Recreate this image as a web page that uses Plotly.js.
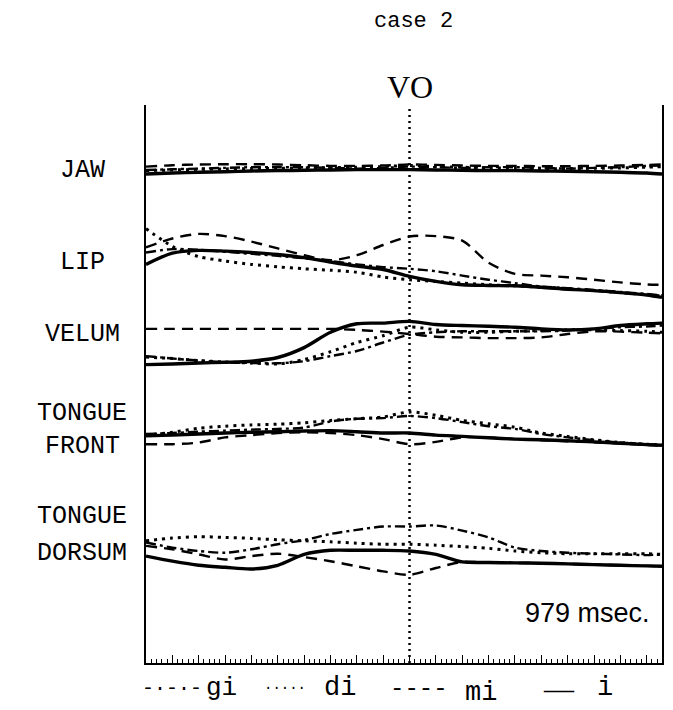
<!DOCTYPE html>
<html>
<head>
<meta charset="utf-8">
<script src="https://cdn.plot.ly/plotly-3.0.1.min.js"></script>
<style>html,body{margin:0;padding:0;background:#fff;}#chart{width:673px;height:710px;}</style>
</head>
<body>
<div id="chart"></div>
<script>
// ---- data (time in ms, displacement in arbitrary units, positive = up) ----
const TIME_MS = [0, 50, 100, 150, 200, 250, 300, 350, 400, 450, 500, 550, 600, 650, 700, 750, 800, 850, 900, 950, 979];
const VO_TIME = 500;
const TOTAL_MS = 979;
const CHANNELS = ["JAW", "LIP", "VELUM", "TONGUE FRONT", "TONGUE DORSUM"];
const SERIES = ["gi", "di", "mi", "i"];

const JAW_I  = [-2, -1, -0.3, 0.3, 1, 1.4, 1.7, 2, 2.4, 2.4, 2.4, 2, 1.7, 1.4, 1.4, 1, 0.7, 0.3, -0.3, -1, -2];
const JAW_MI = [5.4, 6.8, 7.5, 7.8, 7.8, 7.5, 6.8, 6.1, 6.1, 6.5, 7.5, 7.1, 6.5, 6.1, 6.1, 5.8, 5.8, 6.1, 6.5, 7.1, 7.5];
const JAW_DI = [1.4, 2, 2.7, 3.1, 3.4, 3.7, 4.1, 4.4, 4.8, 5.4, 6.5, 5.4, 4.8, 4.1, 3.7, 3.4, 3.4, 3.7, 4.1, 4.8, 5.4];
const JAW_GI = [2, 2.7, 3.4, 4.1, 4.8, 4.8, 4.8, 4.1, 3.4, 4.1, 5.4, 4.8, 4.1, 4.8, 4.8, 4.1, 3.4, 4.1, 4.8, 6.1, 6.5];

const LIP_I  = [-2.4, 8.8, 11.6, 10.9, 9.5, 7.5, 4.4, 0, -4.1, -7.5, -14.3, -19.4, -22.8, -23.5, -23.8, -25.2, -27.2, -28.6, -30.6, -33, -35.4];
const LIP_MI = [14.6, 23.5, 28.1, 25.9, 20.4, 13.6, 6.8, 1.7, 6.8, 17, 25.5, 25.9, 21.4, -0.7, -11.9, -13.6, -15.3, -17.7, -20.4, -22.4, -22.8];
const LIP_DI = [33.3, 15.6, 5.4, 1, -2.4, -4.8, -6.8, -8.2, -10.2, -15, -17.7, -19.4, -21.1, -22.8, -23.8, -25.2, -26.5, -28.6, -30.6, -32.7, -34];
const LIP_GI = [9.5, 12.9, 12.2, 10.2, 8.2, 6.1, 3.7, 1, -2.4, -5.1, -6.8, -9.2, -13.6, -17.7, -21.1, -24.5, -26.2, -27.9, -29.9, -32, -33.3];

const VELUM_I  = [-31.6, -31, -30, -29.3, -28.2, -24.5, -14.6, 0.7, 9.2, 9.9, 11.6, 8.5, 7.5, 6.8, 5.8, 4.1, 3.1, 4.1, 7.5, 9.2, 9.9];
const VELUM_MI = [4.1, 4.1, 4.1, 4.1, 4.1, 4.1, 4.1, 4.1, 3.1, 1.4, -1, -3.7, -4.4, -5.1, -5.1, -4.4, -1, 1.7, 1.4, 0.3, -0.3];
const VELUM_DI = [-24.1, -25.5, -27.6, -29, -30, -31, -26.5, -18.7, -9.5, -2.7, 5.8, 3.1, 0.7, 0.7, 1.7, 2.4, 3.1, 3.1, 2.4, 1.7, 0.7];
const VELUM_GI = [-23.1, -25.5, -27.6, -29.3, -30, -30.3, -28.2, -23.1, -18, -9.5, -1.7, 0.7, 1.7, 1.7, 1.7, 1.7, 2.4, 4.1, 5.8, 6.5, 7.5];

const TF_I  = [-3.7, -3.1, -2, -1, -0.3, 0.3, 1, 1.4, 0.3, -1, -1, -3.1, -4.4, -5.8, -7.1, -7.8, -8.8, -9.9, -11.2, -12.6, -13.3];
const TF_MI = [-12.2, -12.2, -10.5, -5.4, -3.1, -1, -0.3, -1, -3.1, -7.1, -12.2, -9.9, -5.4, -5.4, -7.1, -8.2, -9.2, -10.2, -11.6, -12.9, -13.6];
const TF_DI = [-3.1, -0.3, 3.7, 5.8, 7.1, 7.8, 9.2, 11.6, 13.3, 15, 20.1, 16.7, 11.6, 8.2, 4.8, -1, -4.4, -7.8, -10.5, -12.2, -12.9];
const TF_GI = [-2, -1, 0.3, 1.4, 2.4, 3.1, 4.4, 10.5, 13.3, 13.9, 16, 13.9, 9.9, 5.8, 3.1, -2, -5.4, -8.2, -10.5, -12.2, -12.9];

const TD_I  = [-4.1, -9.2, -13.3, -15.3, -17, -13.3, -2.4, 1.7, 1.7, 1.7, 1, -2.4, -9.9, -10.5, -10.9, -11.2, -11.9, -12.6, -13.3, -13.9, -14.3];
const TD_MI = [6.1, 2.7, -2.4, -7.5, -4.1, -1.7, -5.1, -9.2, -14.3, -19.4, -22.8, -16, -9.9, -10.5, -10.9, -11.2, -11.9, -12.6, -13.3, -13.9, -14.3];
const TD_DI = [11.2, 13.9, 15.3, 14.6, 13.6, 12.2, 11.2, 10.2, 8.8, 7.8, 7.8, 6.8, 5.4, 3.7, 1, -0.7, -1.7, -1.7, -1.7, -1.7, -2.4];
const TD_GI = [9.5, 4.4, 1, -0.7, 2.7, 7.8, 11.9, 18, 22.1, 25.5, 25.5, 26.5, 21.4, 14.6, 4.4, 1, -0.7, -1.7, -2.4, -3.1, -2.4];

// ---- layout constants (positions / styles) ----
const PLOT_H = 558;                       // y-axis units = pixels
const CHANNEL_BASE = [491, 401, 330, 231, 111];
const CHANNEL_DATA = [
  {gi: JAW_GI, di: JAW_DI, mi: JAW_MI, i: JAW_I},
  {gi: LIP_GI, di: LIP_DI, mi: LIP_MI, i: LIP_I},
  {gi: VELUM_GI, di: VELUM_DI, mi: VELUM_MI, i: VELUM_I},
  {gi: TF_GI, di: TF_DI, mi: TF_MI, i: TF_I},
  {gi: TD_GI, di: TD_DI, mi: TD_MI, i: TD_I}
];
const STYLE = {
  gi: {dash: "10px,4px,3px,4px", width: 2.4},
  di: {dash: "3px,5px", width: 3},
  mi: {dash: "11px,7px", width: 2.4},
  i:  {dash: "solid", width: 3.4}
};

const traces = [];
CHANNELS.forEach((ch, k) => {
  SERIES.forEach(s => {
    traces.push({
      x: TIME_MS,
      y: CHANNEL_DATA[k][s].map(v => v + CHANNEL_BASE[k]),
      type: "scatter", mode: "lines", name: s, showlegend: false,
      line: {color: "#000", width: STYLE[s].width, dash: STYLE[s].dash, shape: "spline", smoothing: 0.8},
      hoverinfo: "skip"
    });
  });
});

const MONO = "Courier New, Liberation Mono, monospace";
const L = 146, R = 11, T = 105, B = 47, W = 673, H = 710;
const PW = W - L - R;
function px2paperX(px) { return (px - L) / PW; }
function px2paperY(py) { return (H - B - py) / PLOT_H; }

const labelRows = [
  ["JAW", 170], ["LIP", 262], ["VELUM", 334], ["TONGUE", 413], ["FRONT", 446], ["TONGUE", 516], ["DORSUM", 553]
];
const annotations = labelRows.map(([t, py]) => ({
  text: t, xref: "paper", yref: "paper", x: px2paperX(82), y: px2paperY(py),
  xanchor: "center", yanchor: "middle", showarrow: false,
  font: {family: MONO, size: 25, color: "#000"}
}));
annotations.push({text: "case 2", xref: "paper", yref: "paper", x: px2paperX(413), y: px2paperY(22),
  xanchor: "center", yanchor: "middle", showarrow: false, font: {family: MONO, size: 22, color: "#000"}});
annotations.push({text: "VO", xref: "x", yref: "paper", x: VO_TIME, y: px2paperY(87),
  xanchor: "center", yanchor: "middle", showarrow: false, font: {family: "Liberation Serif, serif", size: 32, color: "#000"}});
annotations.push({text: TOTAL_MS + " msec.", xref: "paper", yref: "paper", x: px2paperX(652), y: px2paperY(613),
  xanchor: "right", yanchor: "middle", showarrow: false, font: {family: "Liberation Sans, Arial, sans-serif", size: 27, color: "#000"}});
const legendBits = [
  ["-·-·-", 140, 688, 20, MONO], ["gi", 204, 688, 26, MONO],
  ["·····", 262, 688, 14, MONO], ["di", 322, 688, 27, MONO],
  ["----", 388, 688, 24, MONO], ["mi", 463, 693, 27, MONO],
  ["—", 541, 688, 30, "Liberation Serif, serif"], ["i", 595, 688, 27, MONO]
];
legendBits.forEach(([t, px, py, sz, fam]) => annotations.push({
  text: t, xref: "paper", yref: "paper", x: px2paperX(px), y: px2paperY(py),
  xanchor: "left", yanchor: "middle", showarrow: false, font: {family: fam, size: sz, color: "#000"}
}));

const layout = {
  width: W, height: H,
  margin: {l: L, r: R, t: T, b: B, pad: 0},
  paper_bgcolor: "#fff", plot_bgcolor: "#fff",
  showlegend: false,
  xaxis: {
    range: [0, TOTAL_MS], showgrid: false, zeroline: false, showline: true, linecolor: "#000", linewidth: 2,
    ticks: "inside", ticklen: 8, tickwidth: 1, tickcolor: "#000", dtick: 50, tick0: 0, showticklabels: false,
    minor: {ticks: "inside", ticklen: 4, tickwidth: 1, tickcolor: "#000", dtick: 10, showgrid: false}
  },
  yaxis: {
    range: [0, PLOT_H], showgrid: false, zeroline: false, showline: true, mirror: true,
    linecolor: "#000", linewidth: 2, ticks: "", showticklabels: false
  },
  shapes: [{type: "line", xref: "x", yref: "paper", x0: VO_TIME, x1: VO_TIME, y0: 0, y1: 1,
    line: {color: "#000", width: 2.5, dash: "2px,4px"}}],
  annotations: annotations
};

Plotly.newPlot("chart", traces, layout, {staticPlot: true, displayModeBar: false});
</script>
</body>
</html>
